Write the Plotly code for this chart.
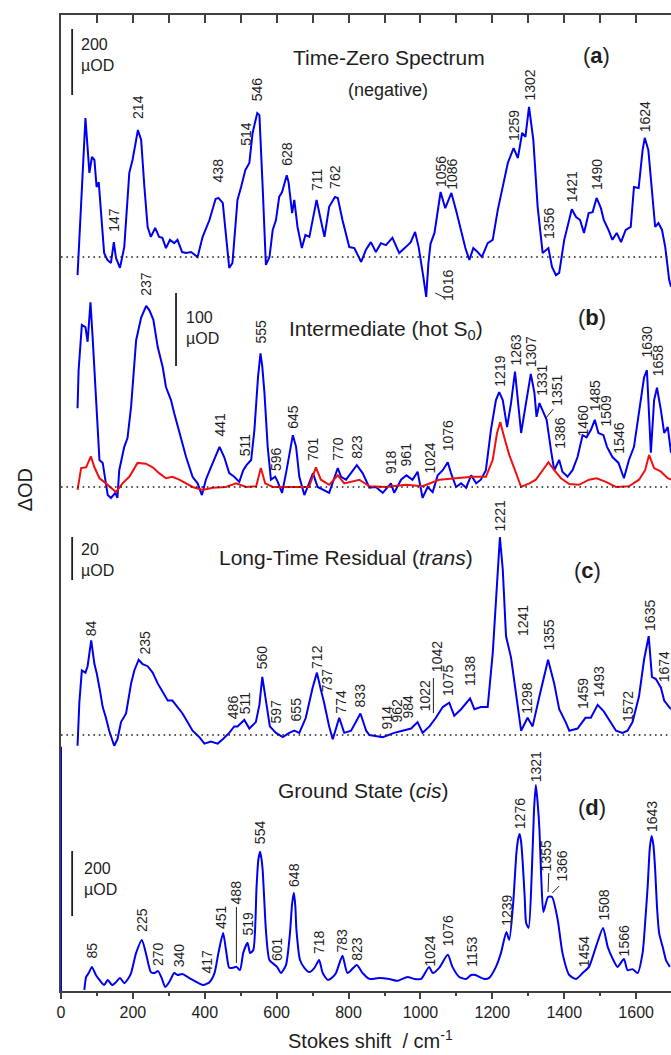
import plotly.graph_objects as go

# ---------------- spectra (x in cm^-1, values in µOD) ----------------
# (a) time-zero spectrum, plotted as its negative
tz_x = [46, 68, 79, 86, 93, 99, 105, 111, 120, 129, 139, 147, 153, 164, 176, 190, 199, 214, 223, 232,
        241, 250, 262, 273, 282, 292, 303, 315, 324, 337, 348, 362, 371, 380, 394, 413, 430, 438, 450, 459,
        468, 477, 491, 501, 513, 524, 533, 546, 552, 561, 570, 580, 589, 598, 607, 615, 628, 633, 643, 649,
        658, 670, 680, 691, 700, 711, 721, 733, 746, 762, 770, 783, 802, 816, 835, 848, 862, 876, 890, 904,
        922, 941, 959, 973, 985, 995, 1008, 1016, 1022, 1028, 1039, 1056, 1069, 1086, 1099, 1113, 1125, 1136, 1147, 1159,
        1171, 1187, 1201, 1215, 1229, 1243, 1259, 1271, 1283, 1292, 1302, 1314, 1326, 1340, 1356, 1366, 1377, 1386, 1400, 1421,
        1433, 1444, 1455, 1468, 1479, 1490, 1502, 1510, 1523, 1534, 1546, 1558, 1571, 1585, 1594, 1607, 1618, 1624, 1634, 1644,
        1653, 1662, 1672, 1681, 1692, 1697]
tz_v = [-55, 421, 255, 303, 294, 212, 227, 133, 12, -9, -18, 45, -3, -33, 30, 255, 294, 385, 355, 212,
        91, 61, 88, 61, 58, 27, 52, 42, 52, 15, 12, 15, 6, 0, 61, 112, 176, 179, 164, 73,
        -33, -18, 173, 212, 264, 285, 376, 436, 430, 212, -24, 0, 82, 112, 182, 197, 248, 227, 133, 173,
        91, 27, 67, 61, 112, 173, 121, 61, 152, 182, 179, 112, 30, 27, -15, 21, 45, 15, 42, 36,
        58, 12, 30, 45, 76, 30, -60, -121, -20, 40, 73, 197, 148, 194, 142, 82, 27, -9, 27, 15,
        0, 42, 52, 142, 212, 285, 330, 300, 376, 364, 455, 355, 152, 12, 27, -30, -55, -48, 52, 145,
        121, 112, 73, 133, 136, 179, 148, 112, 82, 52, 73, 45, 82, 91, 212, 209, 324, 361, 324, 212,
        91, 103, 82, 30, -70, -90]

# (b) intermediate (hot S0)
hot_x = [46, 49, 58, 68, 74, 82, 88, 97, 107, 116, 130, 139, 151, 157, 162, 176, 185, 195, 209, 223,
         237, 246, 257, 269, 283, 292, 306, 315, 329, 343, 348, 366, 380, 392, 403, 417, 441, 454, 468, 482,
         496, 507, 516, 529, 538, 548, 555, 560, 566, 575, 584, 596, 603, 615, 626, 645, 654, 663, 677, 686,
         701, 714, 728, 746, 770, 779, 793, 823, 839, 858, 876, 895, 918, 927, 946, 961, 978, 992, 1006, 1020,
         1034, 1048, 1062, 1076, 1085, 1099, 1113, 1127, 1141, 1155, 1168, 1182, 1196, 1210, 1219, 1229, 1241, 1252, 1263, 1270,
         1280, 1292, 1307, 1317, 1323, 1331, 1342, 1351, 1363, 1372, 1386, 1395, 1409, 1423, 1437, 1451, 1462, 1474, 1485, 1495,
         1509, 1519, 1534, 1551, 1566, 1580, 1594, 1608, 1622, 1630, 1641, 1650, 1658, 1669, 1678, 1688, 1697]
hot_v = [108, 160, 222, 219, 199, 253, 205, 129, 37, 33, -11, -15, -8, -15, 23, 55, 67, 110, 201, 232,
         248, 242, 229, 192, 164, 137, 119, 101, 74, 47, 41, 14, 5, -11, 10, 27, 55, 41, 19, 14,
         7, 23, 30, 37, 78, 150, 183, 165, 129, 55, 10, 14, 7, -8, 19, 71, 55, 14, -11, 0,
         19, 0, -4, -8, 26, 14, 10, 30, 19, -1, 0, -8, 5, -8, 10, 16, 10, 21, -15, 0,
         -7, 16, 23, 34, 19, 0, 5, -1, 16, 5, 10, 23, 78, 119, 130, 119, 82, 115, 158, 119,
         74, 110, 155, 129, 96, 115, 101, 92, 51, 23, 37, 21, 14, 23, 41, 71, 68, 78, 92, 74,
         71, 55, 41, 33, 12, 37, 55, 105, 150, 160, 47, 119, 136, 105, 74, 82, 47]

# (b) second component (red)
hot2_x = [46, 56, 70, 83, 93, 107, 120, 139, 153, 171, 190, 213, 236, 255, 273, 292, 310, 329, 348, 366,
          394, 422, 459, 487, 515, 543, 556, 568, 589, 626, 663, 690, 709, 723, 746, 770, 788, 830, 858, 904,
          960, 1006, 1052, 1099, 1145, 1182, 1201, 1213, 1222, 1233, 1247, 1266, 1280, 1303, 1321, 1340, 1356, 1372, 1391, 1414,
          1441, 1469, 1490, 1516, 1544, 1580, 1608, 1625, 1636, 1650, 1669, 1688, 1697]
hot2_v = [-4, 26, 27, 42, 27, 12, 7, -1, -7, 5, 14, 33, 32, 27, 19, 12, 14, 10, 5, 0,
          -4, -1, 0, 5, 0, 1, 26, 5, 0, 0, 1, 0, 27, 10, 3, 16, 5, 10, 1, 0,
          3, 1, 10, 12, 14, 14, 37, 74, 89, 68, 44, 19, 0, 5, 10, 23, 34, 23, 12, 4,
          3, 10, 12, 7, 0, 1, 10, 23, 44, 26, 21, 12, 10]

# (c) long-time residual (trans)
res_x = [46, 51, 58, 68, 74, 84, 93, 99, 107, 116, 125, 134, 148, 157, 167, 181, 195, 204, 216, 227,
         241, 255, 269, 283, 297, 310, 324, 338, 352, 366, 385, 399, 417, 436, 450, 468, 482, 491, 510, 524,
         542, 552, 560, 570, 581, 598, 617, 635, 649, 663, 681, 700, 712, 723, 732, 746, 756, 774, 788, 807,
         833, 849, 858, 895, 927, 950, 974, 992, 1006, 1025, 1043, 1062, 1080, 1094, 1113, 1138, 1150, 1168, 1187, 1201,
         1213, 1221, 1229, 1238, 1252, 1266, 1280, 1298, 1312, 1331, 1355, 1372, 1386, 1404, 1414, 1437, 1459, 1474, 1493, 1510,
         1530, 1544, 1562, 1576, 1590, 1608, 1622, 1635, 1644, 1655, 1669, 1678, 1692, 1697]
res_v = [-5, 15, 30, 29, 32, 44, 33, 29, 22, 13, 8, 2, -5, -2, 6, 10, 24, 30, 35, 33,
         32, 29, 24, 20, 16, 16, 13, 10, 6, 2, -1, -4, -3, -4, -2, 1, 4, 4, 7, 3,
         6, 14, 27, 16, 4, 1, -1, 1, 2, 1, 8, 22, 29, 21, 15, 4, -2, 8, 1, 2,
         10, 2, 0, -1, 1, 2, 3, 6, 1, 4, 8, 13, 15, 9, 12, 17, 12, 13, 13, 38,
         72, 92, 77, 46, 36, 18, 2, 8, 4, 18, 35, 24, 12, 6, 2, 3, 8, 8, 14, 11,
         6, 2, 1, 2, 6, 18, 35, 46, 27, 26, 22, 16, 13, 12]

# (d) ground state (cis); the first segment is the Rayleigh line edge
gs_x = [0, 0, None,
        65, 70, 77, 86, 97, 107, 120, 130, 142, 153, 164, 176, 188, 195, 209, 225, 236, 250,
        260, 270, 280, 290, 301, 315, 324, 338, 352, 366, 383, 396, 413, 427, 438, 451, 459, 468,
        477, 488, 498, 507, 519, 526, 535, 544, 549, 554, 558, 561, 566, 570, 580, 601, 612, 626,
        637, 643, 648, 652, 655, 665, 677, 691, 705, 718, 728, 742, 756, 765, 783, 797, 823, 839,
        858, 885, 913, 936, 964, 983, 1002, 1024, 1034, 1052, 1076, 1089, 1108, 1127, 1141, 1153, 1159, 1178,
        1191, 1210, 1224, 1239, 1247, 1258, 1267, 1272, 1276, 1280, 1284, 1290, 1294, 1301, 1310, 1316, 1321, 1326,
        1331, 1336, 1342, 1355, 1366, 1382, 1395, 1414, 1433, 1454, 1469, 1488, 1508, 1521, 1534, 1548, 1566, 1576,
        1590, 1604, 1618, 1625, 1632, 1638, 1643, 1648, 1653, 1658, 1664, 1674, 1683, 1694]
gs_v = [-9, 742, None,
        -6, 34, 46, 65, 40, 25, 9, 25, 9, 18, 31, 15, 31, 46, 108, 148, 108, 49,
        46, 52, 31, 3, 18, 46, 40, 43, 34, 25, 15, 9, 18, 46, 108, 169, 117, 62,
        62, 65, 55, 108, 139, 108, 117, 311, 395, 419, 395, 363, 260, 179, 86, 65, 46, 71,
        169, 260, 293, 250, 179, 86, 62, 49, 62, 86, 46, 25, 34, 46, 99, 46, 71, 46,
        28, 31, 28, 22, 34, 28, 28, 65, 46, 62, 102, 65, 34, 28, 40, 40, 37, 28,
        31, 65, 108, 172, 148, 262, 416, 460, 474, 450, 394, 280, 200, 185, 363, 550, 625, 570,
        487, 340, 234, 280, 280, 209, 108, 40, 28, 49, 65, 126, 185, 126, 92, 65, 89, 55,
        58, 46, 108, 200, 311, 430, 468, 440, 363, 250, 169, 126, 86, 65]

# ---------------- peak labels: text, x position, label foot ----------------
a_lbl = ["147", "214", "438", "514", "546", "628", "711", "762", "1016", "1056", "1086",
         "1259", "1302", "1356", "1421", "1490", "1624"]
a_lx = [147, 214, 438, 514, 546, 628, 711, 762, 1075, 1056, 1086, 1259, 1302, 1356, 1421, 1490, 1624]
a_ly = [758, 871, 808, 844, 889, 824, 799, 801, 689, 803, 800, 849, 889, 751, 788, 800, 858]

b_lbl = ["237", "441", "511", "555", "596", "645", "701", "770", "823", "918", "961", "1024", "1076",
         "1219", "1263", "1307", "1331", "1351", "1386", "1460", "1485", "1509", "1546", "1630", "1658"]
b_lx = [236, 441, 511, 555, 598, 645, 701, 770, 823, 918, 961, 1024, 1076,
        1219, 1263, 1307, 1336, 1378, 1386, 1452, 1485, 1516, 1550, 1630, 1660]
b_ly = [694, 553, 534, 646, 519, 561, 529, 529, 531, 516, 524, 516, 539,
        603, 624, 623, 594, 584, 541, 554, 579, 564, 536, 633, 614]

c_lbl = ["84", "235", "486", "511", "560", "597", "655", "712", "737", "774", "833", "914", "962", "984",
         "1022", "1042", "1075", "1138", "1221", "1241", "1298", "1355", "1459", "1493", "1572", "1635", "1674"]
c_lx = [84, 235, 479, 511, 560, 597, 655, 712, 741, 778, 833, 908, 936, 964,
        1012, 1045, 1075, 1138, 1221, 1284, 1294, 1355, 1451, 1496, 1576, 1637, 1677]
c_ly = [354, 336, 271, 276, 321, 266, 269, 321, 298, 276, 283, 261, 268, 271,
        279, 318, 294, 304, 459, 354, 276, 339, 281, 293, 268, 359, 308]

d_lbl = ["85", "225", "270", "340", "417", "451", "488", "519", "554", "601", "648", "718", "783", "823",
         "1024", "1076", "1153", "1239", "1276", "1321", "1355", "1366", "1454", "1508", "1566", "1643"]
d_lx = [85, 225, 270, 329, 405, 445, 488, 519, 554, 601, 648, 718, 783, 823,
        1024, 1076, 1143, 1239, 1276, 1321, 1349, 1391, 1454, 1508, 1566, 1643]
d_ly = [31, 58, 24, 23, 16, 61, 86, 54, 146, 29, 103, 36, 38, 29,
        23, 44, 23, 64, 161, 208, 119, 108, 23, 69, 34, 158]

# ---------------- stacking: baseline and display units per µOD ----------------
PANEL = {
    "a": dict(base=734, k=0.33),
    "b": dict(base=504, k=0.73),
    "c": dict(base=256, k=2.15),
    "d": dict(base=3, k=0.325),
}
X_MAX = 1697
Y_MAX = 976

BLUE = "#0000f0"
RED = "#f01010"
INK = "#1e1e1e"
AXIS = "#404040"
FONT = "Liberation Sans, Arial, sans-serif"


def stack(vals, panel):
    p = PANEL[panel]
    return [None if v is None else p["base"] + p["k"] * v for v in vals]


fig = go.Figure()
line_kw = dict(mode="lines", hoverinfo="skip", showlegend=False)
fig.add_trace(go.Scatter(x=tz_x, y=stack(tz_v, "a"), line=dict(color=BLUE, width=2), **line_kw))
fig.add_trace(go.Scatter(x=hot_x, y=stack(hot_v, "b"), line=dict(color=BLUE, width=2), **line_kw))
fig.add_trace(go.Scatter(x=hot2_x, y=stack(hot2_v, "b"), line=dict(color=RED, width=2),
                         xaxis="x2", **line_kw))
fig.add_trace(go.Scatter(x=res_x, y=stack(res_v, "c"), line=dict(color=BLUE, width=2), **line_kw))
fig.add_trace(go.Scatter(x=gs_x, y=stack(gs_v, "d"), line=dict(color=BLUE, width=2, shape="spline",
                                                                 smoothing=0.6),
                         connectgaps=False, **line_kw))

shapes = []
# dotted zero lines of panels a-c
for pn in ("a", "b", "c"):
    shapes.append(dict(type="line", xref="x", yref="y", x0=0, x1=X_MAX,
                       y0=PANEL[pn]["base"], y1=PANEL[pn]["base"],
                       line=dict(color="#202020", width=1.6, dash="1.6px,3.8px")))

# scale bars: (panel, x position, foot of the bar, size in µOD)
scale_bars = [("a", 31, 896, 200), ("b", 320, 625, 100), ("c", 31, 411, 20), ("d", 31, 75, 200)]
for pn, sx, sy, size in scale_bars:
    shapes.append(dict(type="line", xref="x", yref="y", x0=sx, x1=sx, y0=sy,
                       y1=sy + PANEL[pn]["k"] * size, line=dict(color=INK, width=1.8)))

# leader lines from crowded labels to their bands
leaders = [((1041, 698), (1064, 694)),
           ((1349, 573), (1370, 582)),
           ((1036, 278), (1036, 313)),
           ((488, 28), (488, 84)),
           ((1355, 99), (1357, 118)),
           ((1367, 98), (1386, 105))]
for (x0, y0), (x1, y1) in leaders:
    shapes.append(dict(type="line", xref="x", yref="y", x0=x0, y0=y0, x1=x1, y1=y1,
                       line=dict(color=INK, width=1)))

ann = []


def peak_labels(texts, xs, ys):
    for t, x, y in zip(texts, xs, ys):
        ann.append(dict(text=t, x=x, y=y, xref="x", yref="y", textangle=-90,
                        xanchor="center", yanchor="bottom", showarrow=False, borderpad=0,
                        font=dict(family=FONT, size=14, color=INK)))


peak_labels(a_lbl, a_lx, a_ly)
peak_labels(b_lbl, b_lx, b_ly)
peak_labels(c_lbl, c_lx, c_ly)
peak_labels(d_lbl, d_lx, d_ly)

# panel titles
titles = [("Time-Zero Spectrum", 641, 934, 21),
          ("(negative)", 794, 901, 18),
          ("Intermediate (hot S<sub>0</sub>)", 630, 661, 21),
          ("Long-Time Residual (<i>trans</i>)", 435, 434, 21),
          ("Ground State (<i>cis</i>)", 599, 201, 21)]
for t, x, y, s in titles:
    ann.append(dict(text=t, x=x, y=y, xref="x", yref="y", xanchor="left", yanchor="middle",
                    showarrow=False, font=dict(family=FONT, size=s, color=INK)))

tags = [("(<b>a</b>)", 1489, 936), ("(<b>b</b>)", 1478, 674),
        ("(<b>c</b>)", 1464, 421), ("(<b>d</b>)", 1478, 184)]
for t, x, y in tags:
    ann.append(dict(text=t, x=x, y=y, xref="x", yref="y", xanchor="center", yanchor="middle",
                    showarrow=False, font=dict(family=FONT, size=22, color=INK)))

# scale bar captions
for t, x, y in [("200<br>µOD", 51, 936), ("100<br>µOD", 343, 663),
                ("20<br>µOD", 51, 431), ("200<br>µOD", 59, 112)]:
    ann.append(dict(text=t, x=x, y=y, xref="x", yref="y", xanchor="left", yanchor="middle",
                    align="left", showarrow=False, font=dict(family=FONT, size=16, color=INK)))

# axis titles
ann.append(dict(text="ΔOD", x=-0.059, y=0.513, xref="paper", yref="paper", textangle=-90,
                xanchor="center", yanchor="middle", showarrow=False,
                font=dict(family=FONT, size=20, color=INK)))
ann.append(dict(text="Stokes shift\u00a0 / cm<sup>-1</sup>", x=0.5066, y=-0.050, xref="paper",
                yref="paper", xanchor="center", yanchor="middle", showarrow=False,
                font=dict(family=FONT, size=20, color=INK)))

fig.update_layout(
    width=671, height=1055,
    margin=dict(l=61, r=0, t=15, b=64),
    paper_bgcolor="white", plot_bgcolor="white",
    showlegend=False,
    shapes=shapes, annotations=ann,
    xaxis=dict(range=[0, X_MAX], showgrid=False, zeroline=False, showline=True,
               linecolor=AXIS, linewidth=1.6, ticks="outside", ticklen=6, tickwidth=1.5,
               tickcolor=AXIS, tick0=0, dtick=200,
               minor=dict(ticks="outside", ticklen=3, tickwidth=1.5, tickcolor=AXIS, dtick=100),
               tickfont=dict(family=FONT, size=16, color=INK)),
    xaxis2=dict(range=[0, X_MAX], overlaying="x", side="top", anchor="y", showgrid=False,
                zeroline=False, showline=True, linecolor=AXIS, linewidth=1.6,
                ticks="inside", ticklen=8, tickwidth=1.5, tickcolor=AXIS,
                tick0=0, dtick=100, showticklabels=False),
    yaxis=dict(range=[0, Y_MAX], showgrid=False, zeroline=False, showline=True,
               linecolor=AXIS, linewidth=2, ticks="", showticklabels=False),
)

fig.write_html("out.html")
